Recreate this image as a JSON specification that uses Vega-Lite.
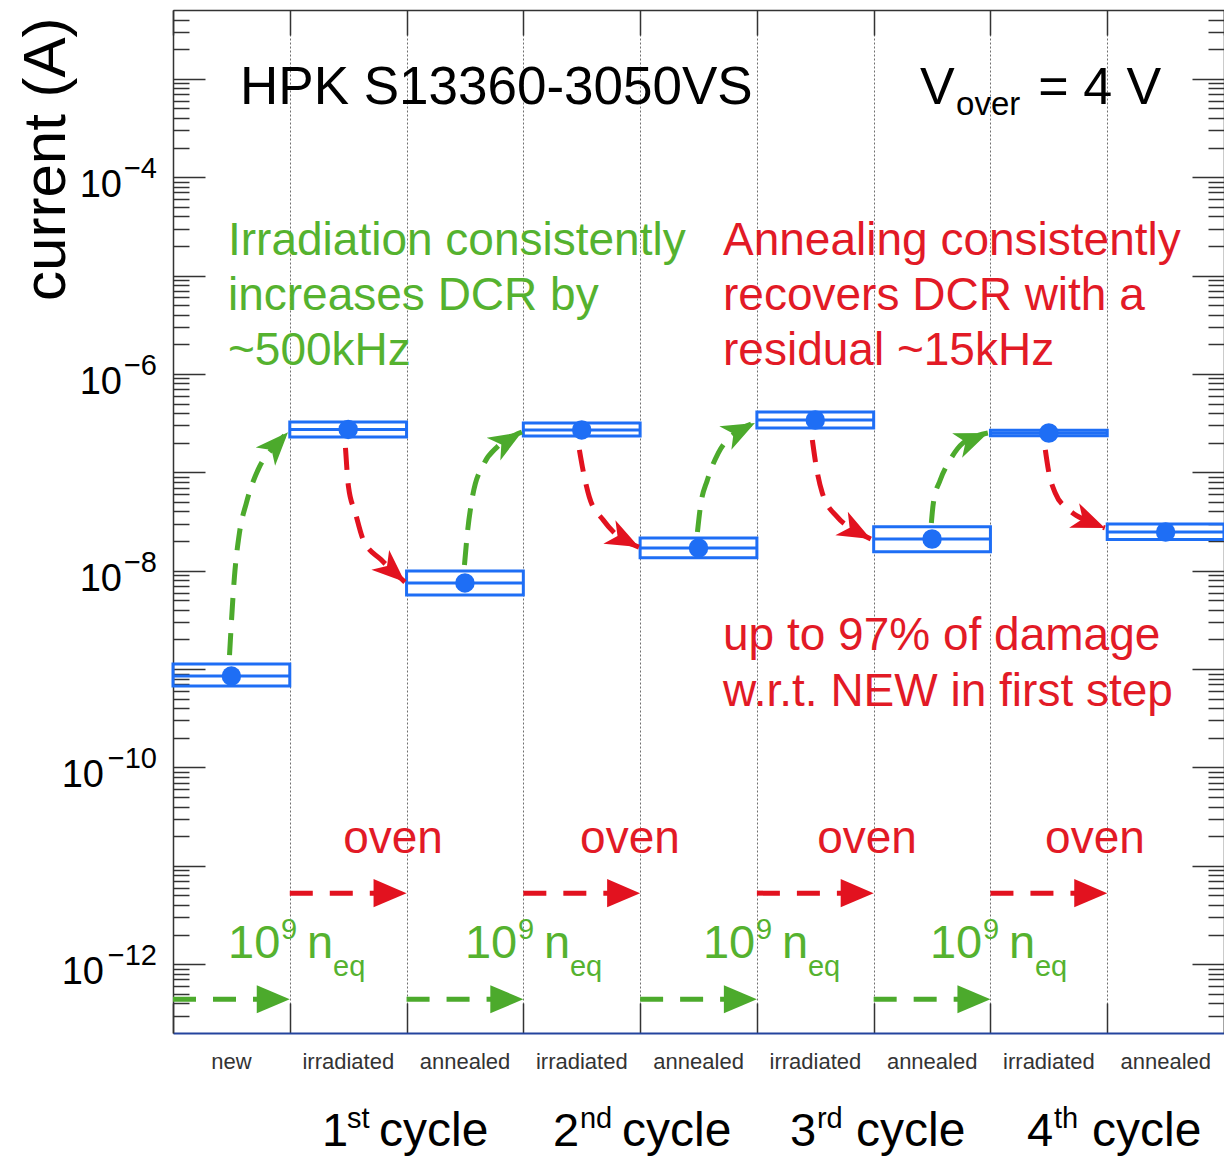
{
  "$schema": "https://vega.github.io/schema/vega-lite/v6.json",
  "width": 1051,
  "height": 1023,
  "autosize": {"type": "none"},
  "padding": {"left": 173, "top": 10, "right": 0, "bottom": 123},
  "background": "white",
  "config": {"view": {"stroke": null}, "font": "Liberation Sans"},
  "datasets": {
    "boxes": [
      {"state": "new", "x0": 0, "x1": 1, "xm": 0.5, "val": 8.49e-10, "lo": 6.71e-10, "hi": 1.125e-9},
      {"state": "irradiated", "x0": 1, "x1": 2, "xm": 1.5, "val": 2.73e-7, "lo": 2.29e-7, "hi": 3.25e-7},
      {"state": "annealed", "x0": 2, "x1": 3, "xm": 2.5, "val": 7.5e-9, "lo": 5.66e-9, "hi": 9.93e-9},
      {"state": "irradiated", "x0": 3, "x1": 4, "xm": 3.5, "val": 2.7e-7, "lo": 2.34e-7, "hi": 3.18e-7},
      {"state": "annealed", "x0": 4, "x1": 5, "xm": 4.5, "val": 1.7e-8, "lo": 1.35e-8, "hi": 2.15e-8},
      {"state": "irradiated", "x0": 5, "x1": 6, "xm": 5.5, "val": 3.4e-7, "lo": 2.83e-7, "hi": 4.11e-7},
      {"state": "annealed", "x0": 6, "x1": 7, "xm": 6.5, "val": 2.1e-8, "lo": 1.56e-8, "hi": 2.8e-8},
      {"state": "irradiated", "x0": 7, "x1": 8, "xm": 7.5, "val": 2.51e-7, "lo": 2.36e-7, "hi": 2.68e-7},
      {"state": "annealed", "x0": 8, "x1": 9, "xm": 8.5, "val": 2.47e-8, "lo": 2.07e-8, "hi": 2.99e-8}
    ],
    "curves": [
      {"id": "g1", "k": "irr", "x": 0.484, "y": 1.387e-9},
      {"id": "g1", "k": "irr", "x": 0.526, "y": 8.63e-9},
      {"id": "g1", "k": "irr", "x": 0.569, "y": 2.42e-8},
      {"id": "g1", "k": "irr", "x": 0.628, "y": 4.87e-8},
      {"id": "g1", "k": "irr", "x": 0.739, "y": 1.13e-7},
      {"id": "g1", "k": "irr", "x": 0.84, "y": 1.69e-7},
      {"id": "g1", "k": "irr", "x": 0.985, "y": 2.55e-7},
      {"id": "r1", "k": "ann", "x": 1.477, "y": 1.77e-7},
      {"id": "r1", "k": "ann", "x": 1.503, "y": 7.1e-8},
      {"id": "r1", "k": "ann", "x": 1.562, "y": 3.86e-8},
      {"id": "r1", "k": "ann", "x": 1.63, "y": 2.05e-8},
      {"id": "r1", "k": "ann", "x": 1.783, "y": 1.29e-8},
      {"id": "r1", "k": "ann", "x": 1.986, "y": 7.67e-9},
      {"id": "g2", "k": "irr", "x": 2.496, "y": 1.14e-8},
      {"id": "g2", "k": "irr", "x": 2.521, "y": 2.42e-8},
      {"id": "g2", "k": "irr", "x": 2.564, "y": 5.61e-8},
      {"id": "g2", "k": "irr", "x": 2.666, "y": 1.245e-7},
      {"id": "g2", "k": "irr", "x": 2.776, "y": 1.81e-7},
      {"id": "g2", "k": "irr", "x": 2.988, "y": 2.57e-7},
      {"id": "r2", "k": "ann", "x": 3.48, "y": 1.69e-7},
      {"id": "r2", "k": "ann", "x": 3.506, "y": 1.13e-7},
      {"id": "r2", "k": "ann", "x": 3.565, "y": 5.61e-8},
      {"id": "r2", "k": "ann", "x": 3.684, "y": 3.27e-8},
      {"id": "r2", "k": "ann", "x": 3.82, "y": 2.2e-8},
      {"id": "r2", "k": "ann", "x": 3.99, "y": 1.74e-8},
      {"id": "g3", "k": "irr", "x": 4.491, "y": 2.47e-8},
      {"id": "g3", "k": "irr", "x": 4.516, "y": 4.45e-8},
      {"id": "g3", "k": "irr", "x": 4.576, "y": 8.36e-8},
      {"id": "g3", "k": "irr", "x": 4.669, "y": 1.57e-7},
      {"id": "g3", "k": "irr", "x": 4.813, "y": 2.51e-7},
      {"id": "g3", "k": "irr", "x": 4.983, "y": 3.18e-7},
      {"id": "r3", "k": "ann", "x": 5.475, "y": 2.13e-7},
      {"id": "r3", "k": "ann", "x": 5.509, "y": 1.13e-7},
      {"id": "r3", "k": "ann", "x": 5.56, "y": 6.17e-8},
      {"id": "r3", "k": "ann", "x": 5.688, "y": 3.52e-8},
      {"id": "r3", "k": "ann", "x": 5.832, "y": 2.59e-8},
      {"id": "r3", "k": "ann", "x": 5.976, "y": 2.1e-8},
      {"id": "g4", "k": "irr", "x": 6.494, "y": 3.05e-8},
      {"id": "g4", "k": "irr", "x": 6.511, "y": 4.87e-8},
      {"id": "g4", "k": "irr", "x": 6.57, "y": 8.36e-8},
      {"id": "g4", "k": "irr", "x": 6.655, "y": 1.34e-7},
      {"id": "g4", "k": "irr", "x": 6.766, "y": 1.99e-7},
      {"id": "g4", "k": "irr", "x": 6.978, "y": 2.51e-7},
      {"id": "r4", "k": "ann", "x": 7.47, "y": 1.69e-7},
      {"id": "r4", "k": "ann", "x": 7.496, "y": 1.06e-7},
      {"id": "r4", "k": "ann", "x": 7.555, "y": 6.17e-8},
      {"id": "r4", "k": "ann", "x": 7.674, "y": 4.14e-8},
      {"id": "r4", "k": "ann", "x": 7.81, "y": 3.27e-8},
      {"id": "r4", "k": "ann", "x": 7.98, "y": 2.72e-8}
    ],
    "heads": [
      {"k": "irr", "x": 0.985, "y": 2.55e-7, "ang": -47},
      {"k": "ann", "x": 1.986, "y": 7.67e-9, "ang": 42},
      {"k": "irr", "x": 2.988, "y": 2.57e-7, "ang": -31},
      {"k": "ann", "x": 3.99, "y": 1.74e-8, "ang": 27},
      {"k": "irr", "x": 4.983, "y": 3.18e-7, "ang": -27},
      {"k": "ann", "x": 5.976, "y": 2.1e-8, "ang": 28},
      {"k": "irr", "x": 6.978, "y": 2.51e-7, "ang": -22},
      {"k": "ann", "x": 7.98, "y": 2.72e-8, "ang": 22}
    ],
    "flows": [
      {"k": "irr", "x0": 0, "x1": 1, "y": 4.4e-13},
      {"k": "irr", "x0": 2, "x1": 3, "y": 4.4e-13},
      {"k": "irr", "x0": 4, "x1": 5, "y": 4.4e-13},
      {"k": "irr", "x0": 6, "x1": 7, "y": 4.4e-13},
      {"k": "ann", "x0": 1, "x1": 2, "y": 5.27e-12},
      {"k": "ann", "x0": 3, "x1": 4, "y": 5.27e-12},
      {"k": "ann", "x0": 5, "x1": 6, "y": 5.27e-12},
      {"k": "ann", "x0": 7, "x1": 8, "y": 5.27e-12}
    ],
    "ylabels": [
      {"v": 1e-4, "e": "−4"},
      {"v": 1e-6, "e": "−6"},
      {"v": 1e-8, "e": "−8"},
      {"v": 1e-10, "e": "−10"},
      {"v": 1e-12, "e": "−12"}
    ],
    "titleText": [
      {"x": 0.574, "y": 5.57e-4, "t": "HPK S13360-3050VS"}
    ],
    "blackText": [
      {"x": 6.397, "y": 5.57e-4, "t": "V"},
      {"x": 7.41, "y": 5.57e-4, "t": "= 4 V"}
    ],
    "subText": [
      {"x": 6.706, "y": 4.31e-4, "t": "over"}
    ],
    "greenText": [
      {"x": 0.471, "y": 1.62e-5, "t": "Irradiation consistently"},
      {"x": 0.471, "y": 4.48e-6, "t": "increases DCR by"},
      {"x": 0.471, "y": 1.24e-6, "t": "~500kHz"}
    ],
    "redText": [
      {"x": 4.71, "y": 1.62e-5, "t": "Annealing consistently"},
      {"x": 4.71, "y": 4.48e-6, "t": "recovers DCR with a"},
      {"x": 4.71, "y": 1.24e-6, "t": "residual ~15kHz"},
      {"x": 4.71, "y": 1.56e-9, "t": "up to 97% of damage"},
      {"x": 4.71, "y": 4.21e-10, "t": "w.r.t. NEW in first step"}
    ],
    "oven": [
      {"x": 1.884, "y": 1.35e-11, "t": "oven"},
      {"x": 3.913, "y": 1.35e-11, "t": "oven"},
      {"x": 5.943, "y": 1.35e-11, "t": "oven"},
      {"x": 7.895, "y": 1.35e-11, "t": "oven"}
    ],
    "fluence": [
      {"x": 0.471, "y": 1.15e-12},
      {"x": 2.5, "y": 1.15e-12},
      {"x": 4.538, "y": 1.15e-12},
      {"x": 6.482, "y": 1.15e-12}
    ],
    "cycles": [
      {"num": "1", "suf": "st", "xn": 1.276, "xs": 1.49, "xc": 1.764, "y": 1.41e-14},
      {"num": "2", "suf": "nd", "xn": 3.254, "xs": 3.485, "xc": 3.845, "y": 1.41e-14},
      {"num": "3", "suf": "rd", "xn": 5.283, "xs": 5.514, "xc": 5.849, "y": 1.41e-14},
      {"num": "4", "suf": "th", "xn": 7.313, "xs": 7.544, "xc": 7.87, "y": 1.41e-14}
    ]
  },
  "layer": [
    {
      "data": {"name": "boxes"},
      "mark": {"type": "rect", "fill": "transparent", "stroke": "#1e6ef5", "strokeWidth": 3},
      "encoding": {
        "x": {
          "field": "x0", "type": "quantitative",
          "scale": {"domain": [0, 9], "nice": false, "zero": false},
          "axis": {
            "orient": "bottom", "title": null,
            "values": [0, 1, 2, 3, 4, 5, 6, 7, 8, 9],
            "labelExpr": "['new','irradiated','annealed','irradiated','annealed','irradiated','annealed','irradiated','annealed',''][datum.value]",
            "labelOffset": 58, "labelFontSize": 22, "labelFont": "Liberation Sans", "labelColor": "#333333",
            "labelBaseline": "alphabetic", "labelPadding": 65, "labelFlush": false, "labelOverlap": false, "labelBound": false,
            "tickSize": -30, "tickColor": "#333333", "tickWidth": 1.5,
            "grid": true, "gridDash": [2, 2], "gridColor": "#6f6f6f", "gridWidth": 1,
            "domainColor": "#24449e", "domainWidth": 2
          }
        },
        "x2": {"field": "x1"},
        "y": {
          "field": "hi", "type": "quantitative",
          "scale": {"type": "log", "domain": [1.995e-13, 5.012e-3], "nice": false},
          "axis": {
            "orient": "left",
            "title": "current (A)", "titleFontSize": 60, "titleFontWeight": "normal", "titleFont": "Liberation Sans",
            "titleColor": "black", "titleAngle": -90, "titleAlign": "right", "titleBaseline": "alphabetic",
            "titleX": -109, "titleY": 7,
            "values": [3e-13, 4e-13, 5e-13, 6e-13, 7e-13, 8e-13, 9e-13,
              1e-12, 2e-12, 3e-12, 4e-12, 5e-12, 6e-12, 7e-12, 8e-12, 9e-12,
              1e-11, 2e-11, 3e-11, 4e-11, 5e-11, 6e-11, 7e-11, 8e-11, 9e-11,
              1e-10, 2e-10, 3e-10, 4e-10, 5e-10, 6e-10, 7e-10, 8e-10, 9e-10,
              1e-9, 2e-9, 3e-9, 4e-9, 5e-9, 6e-9, 7e-9, 8e-9, 9e-9,
              1e-8, 2e-8, 3e-8, 4e-8, 5e-8, 6e-8, 7e-8, 8e-8, 9e-8,
              1e-7, 2e-7, 3e-7, 4e-7, 5e-7, 6e-7, 7e-7, 8e-7, 9e-7,
              1e-6, 2e-6, 3e-6, 4e-6, 5e-6, 6e-6, 7e-6, 8e-6, 9e-6,
              1e-5, 2e-5, 3e-5, 4e-5, 5e-5, 6e-5, 7e-5, 8e-5, 9e-5,
              1e-4, 2e-4, 3e-4, 4e-4, 5e-4, 6e-4, 7e-4, 8e-4, 9e-4,
              1e-3, 2e-3, 3e-3, 4e-3],
            "labels": false,
            "tickSize": {"condition": {"test": "abs(log(datum.value)/LN10 - round(log(datum.value)/LN10)) < 0.001", "value": -32}, "value": -16},
            "tickColor": "#333333", "tickWidth": 1.5,
            "domainColor": "#333333", "domainWidth": 1.5, "grid": false
          }
        },
        "y2": {"field": "lo"}
      }
    },
    {
      "data": {"name": "boxes"},
      "mark": {"type": "rule", "stroke": "#1e6ef5", "strokeWidth": 3},
      "encoding": {
        "x": {"field": "x0", "type": "quantitative", "axis": null},
        "x2": {"field": "x1"},
        "y": {"field": "val", "type": "quantitative", "axis": null}
      }
    },
    {
      "data": {"name": "curves"},
      "mark": {"type": "line", "interpolate": "monotone", "strokeDash": [22, 13], "strokeWidth": 5},
      "encoding": {
        "x": {"field": "x", "type": "quantitative", "axis": null},
        "y": {"field": "y", "type": "quantitative", "axis": null},
        "detail": {"field": "id"},
        "color": {"field": "k", "type": "nominal", "scale": {"domain": ["irr", "ann"], "range": ["#4caa2c", "#e2121f"]}, "legend": null}
      }
    },
    {
      "data": {"name": "heads"},
      "mark": {"type": "point", "shape": "M0,0 L-2,-0.8 L-1.45,0 L-2,0.8 Z", "size": 1100, "filled": true, "opacity": 1, "strokeWidth": 0},
      "encoding": {
        "x": {"field": "x", "type": "quantitative", "axis": null},
        "y": {"field": "y", "type": "quantitative", "axis": null},
        "angle": {"field": "ang", "type": "quantitative", "scale": null},
        "color": {"field": "k", "type": "nominal", "legend": null}
      }
    },
    {
      "data": {"name": "flows"},
      "mark": {"type": "rule", "strokeDash": [23, 17], "strokeWidth": 5},
      "encoding": {
        "x": {"field": "x0", "type": "quantitative", "axis": null},
        "x2": {"field": "x1"},
        "y": {"field": "y", "type": "quantitative", "axis": null},
        "color": {"field": "k", "type": "nominal", "legend": null}
      }
    },
    {
      "data": {"name": "flows"},
      "mark": {"type": "point", "shape": "M0,0 L-2,-0.85 L-2,0.85 Z", "size": 1089, "filled": true, "opacity": 1, "strokeWidth": 0},
      "encoding": {
        "x": {"field": "x1", "type": "quantitative", "axis": null},
        "y": {"field": "y", "type": "quantitative", "axis": null},
        "color": {"field": "k", "type": "nominal", "legend": null}
      }
    },
    {
      "data": {"name": "boxes"},
      "mark": {"type": "point", "shape": "circle", "size": 380, "filled": true, "opacity": 1, "color": "#1e6ef5"},
      "encoding": {
        "x": {
          "field": "xm", "type": "quantitative",
          "axis": {"orient": "top", "title": null, "values": [0, 1, 2, 3, 4, 5, 6, 7, 8, 9], "labels": false,
            "tickSize": -25, "tickColor": "#333333", "tickWidth": 1.5, "grid": false,
            "domainColor": "#333333", "domainWidth": 1.5}
        },
        "y": {
          "field": "val", "type": "quantitative",
          "axis": {
            "orient": "right", "title": null, "labels": false, "grid": false,
            "values": [3e-13, 4e-13, 5e-13, 6e-13, 7e-13, 8e-13, 9e-13,
              1e-12, 2e-12, 3e-12, 4e-12, 5e-12, 6e-12, 7e-12, 8e-12, 9e-12,
              1e-11, 2e-11, 3e-11, 4e-11, 5e-11, 6e-11, 7e-11, 8e-11, 9e-11,
              1e-10, 2e-10, 3e-10, 4e-10, 5e-10, 6e-10, 7e-10, 8e-10, 9e-10,
              1e-9, 2e-9, 3e-9, 4e-9, 5e-9, 6e-9, 7e-9, 8e-9, 9e-9,
              1e-8, 2e-8, 3e-8, 4e-8, 5e-8, 6e-8, 7e-8, 8e-8, 9e-8,
              1e-7, 2e-7, 3e-7, 4e-7, 5e-7, 6e-7, 7e-7, 8e-7, 9e-7,
              1e-6, 2e-6, 3e-6, 4e-6, 5e-6, 6e-6, 7e-6, 8e-6, 9e-6,
              1e-5, 2e-5, 3e-5, 4e-5, 5e-5, 6e-5, 7e-5, 8e-5, 9e-5,
              1e-4, 2e-4, 3e-4, 4e-4, 5e-4, 6e-4, 7e-4, 8e-4, 9e-4,
              1e-3, 2e-3, 3e-3, 4e-3],
            "tickSize": {"condition": {"test": "abs(log(datum.value)/LN10 - round(log(datum.value)/LN10)) < 0.001", "value": -32}, "value": -16},
            "tickColor": "#333333", "tickWidth": 1.5,
            "domainColor": "#333333", "domainWidth": 1.5
          }
        }
      }
    },
    {
      "data": {"name": "ylabels"},
      "transform": [{"filter": "length(datum.e) == 2"}],
      "mark": {"type": "text", "font": "Liberation Sans", "fontSize": 38, "color": "black", "align": "right", "baseline": "alphabetic", "text": "10", "dx": -51, "dy": 20},
      "encoding": {
        "x": {"datum": 0, "type": "quantitative", "axis": null},
        "y": {"field": "v", "type": "quantitative", "axis": null}
      }
    },
    {
      "data": {"name": "ylabels"},
      "transform": [{"filter": "length(datum.e) == 3"}],
      "mark": {"type": "text", "font": "Liberation Sans", "fontSize": 38, "color": "black", "align": "right", "baseline": "alphabetic", "text": "10", "dx": -69, "dy": 20},
      "encoding": {
        "x": {"datum": 0, "type": "quantitative", "axis": null},
        "y": {"field": "v", "type": "quantitative", "axis": null}
      }
    },
    {
      "data": {"name": "ylabels"},
      "mark": {"type": "text", "font": "Liberation Sans", "fontSize": 29, "color": "black", "align": "right", "baseline": "alphabetic", "dx": -16, "dy": 1},
      "encoding": {
        "x": {"datum": 0, "type": "quantitative", "axis": null},
        "y": {"field": "v", "type": "quantitative", "axis": null},
        "text": {"field": "e"}
      }
    },
    {
      "data": {"name": "titleText"},
      "mark": {"type": "text", "font": "Liberation Sans", "fontSize": 53, "color": "black", "align": "left", "baseline": "alphabetic"},
      "encoding": {
        "x": {"field": "x", "type": "quantitative", "axis": null},
        "y": {"field": "y", "type": "quantitative", "axis": null},
        "text": {"field": "t"}
      }
    },
    {
      "data": {"name": "blackText"},
      "mark": {"type": "text", "font": "Liberation Sans", "fontSize": 52, "color": "black", "align": "left", "baseline": "alphabetic"},
      "encoding": {
        "x": {"field": "x", "type": "quantitative", "axis": null},
        "y": {"field": "y", "type": "quantitative", "axis": null},
        "text": {"field": "t"}
      }
    },
    {
      "data": {"name": "subText"},
      "mark": {"type": "text", "font": "Liberation Sans", "fontSize": 33, "color": "black", "align": "left", "baseline": "alphabetic"},
      "encoding": {
        "x": {"field": "x", "type": "quantitative", "axis": null},
        "y": {"field": "y", "type": "quantitative", "axis": null},
        "text": {"field": "t"}
      }
    },
    {
      "data": {"name": "greenText"},
      "mark": {"type": "text", "font": "Liberation Sans", "fontSize": 46, "color": "#55b22f", "align": "left", "baseline": "alphabetic"},
      "encoding": {
        "x": {"field": "x", "type": "quantitative", "axis": null},
        "y": {"field": "y", "type": "quantitative", "axis": null},
        "text": {"field": "t"}
      }
    },
    {
      "data": {"name": "redText"},
      "mark": {"type": "text", "font": "Liberation Sans", "fontSize": 46, "color": "#e21a26", "align": "left", "baseline": "alphabetic"},
      "encoding": {
        "x": {"field": "x", "type": "quantitative", "axis": null},
        "y": {"field": "y", "type": "quantitative", "axis": null},
        "text": {"field": "t"}
      }
    },
    {
      "data": {"name": "oven"},
      "mark": {"type": "text", "font": "Liberation Sans", "fontSize": 46, "color": "#e21a26", "align": "center", "baseline": "alphabetic"},
      "encoding": {
        "x": {"field": "x", "type": "quantitative", "axis": null},
        "y": {"field": "y", "type": "quantitative", "axis": null},
        "text": {"field": "t"}
      }
    },
    {
      "data": {"name": "fluence"},
      "mark": {"type": "text", "font": "Liberation Sans", "fontSize": 47, "color": "#55b22f", "align": "left", "baseline": "alphabetic", "text": "10"},
      "encoding": {
        "x": {"field": "x", "type": "quantitative", "axis": null},
        "y": {"field": "y", "type": "quantitative", "axis": null}
      }
    },
    {
      "data": {"name": "fluence"},
      "mark": {"type": "text", "font": "Liberation Sans", "fontSize": 29, "color": "#55b22f", "align": "left", "baseline": "alphabetic", "text": "9", "dx": 53, "dy": -19},
      "encoding": {
        "x": {"field": "x", "type": "quantitative", "axis": null},
        "y": {"field": "y", "type": "quantitative", "axis": null}
      }
    },
    {
      "data": {"name": "fluence"},
      "mark": {"type": "text", "font": "Liberation Sans", "fontSize": 47, "color": "#55b22f", "align": "left", "baseline": "alphabetic", "text": "n", "dx": 79},
      "encoding": {
        "x": {"field": "x", "type": "quantitative", "axis": null},
        "y": {"field": "y", "type": "quantitative", "axis": null}
      }
    },
    {
      "data": {"name": "fluence"},
      "mark": {"type": "text", "font": "Liberation Sans", "fontSize": 29, "color": "#55b22f", "align": "left", "baseline": "alphabetic", "text": "eq", "dx": 105, "dy": 18},
      "encoding": {
        "x": {"field": "x", "type": "quantitative", "axis": null},
        "y": {"field": "y", "type": "quantitative", "axis": null}
      }
    },
    {
      "data": {"name": "cycles"},
      "mark": {"type": "text", "font": "Liberation Sans", "fontSize": 47, "color": "black", "align": "left", "baseline": "alphabetic"},
      "encoding": {
        "x": {"field": "xn", "type": "quantitative", "axis": null},
        "y": {"field": "y", "type": "quantitative", "axis": null},
        "text": {"field": "num"}
      }
    },
    {
      "data": {"name": "cycles"},
      "mark": {"type": "text", "font": "Liberation Sans", "fontSize": 29, "color": "black", "align": "left", "baseline": "alphabetic", "dy": -18},
      "encoding": {
        "x": {"field": "xs", "type": "quantitative", "axis": null},
        "y": {"field": "y", "type": "quantitative", "axis": null},
        "text": {"field": "suf"}
      }
    },
    {
      "data": {"name": "cycles"},
      "mark": {"type": "text", "font": "Liberation Sans", "fontSize": 48, "color": "black", "align": "left", "baseline": "alphabetic", "text": "cycle"},
      "encoding": {
        "x": {"field": "xc", "type": "quantitative", "axis": null},
        "y": {"field": "y", "type": "quantitative", "axis": null}
      }
    }
  ],
  "resolve": {"axis": {"x": "independent", "y": "independent"}}
}
